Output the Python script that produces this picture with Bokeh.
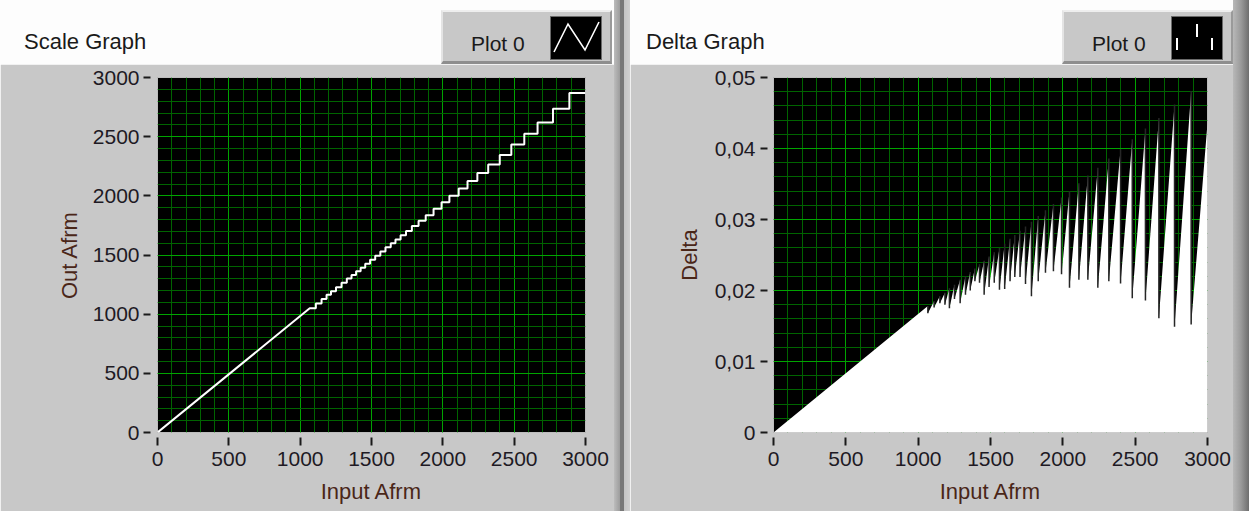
from bokeh.plotting import figure
from bokeh.layouts import row, column
from bokeh.models import Range1d, FixedTicker, CustomJSTickFormatter, Div
from bokeh.embed import file_html
from bokeh.resources import INLINE

# ---------------- data ----------------
step_x = [1067, 1110, 1150, 1185, 1216, 1251, 1290, 1327, 1360, 1392, 1424, 1456,
          1490, 1526, 1562, 1598, 1635, 1668, 1704, 1742, 1783, 1830, 1880, 1935,
          1991, 2046, 2111, 2173, 2242, 2318, 2399, 2480, 2571, 2664, 2772, 2887]
step_level = [1050, 1091, 1129, 1164, 1194, 1227, 1265, 1301, 1332, 1362, 1393, 1427,
              1459, 1494, 1530, 1565, 1600, 1632, 1666, 1702, 1746, 1790, 1836, 1890,
              1945, 2000, 2063, 2125, 2192, 2265, 2345, 2433, 2524, 2620, 2736, 2870]
delta_peak = [0.0178, 0.0185, 0.0192, 0.0197, 0.0203, 0.0208, 0.0215, 0.0220, 0.0226,
              0.0231, 0.0237, 0.0242, 0.0248, 0.0254, 0.0260, 0.0266, 0.0273, 0.0278,
              0.0284, 0.0290, 0.0297, 0.0305, 0.0313, 0.0322, 0.0331, 0.0340, 0.0351,
              0.0362, 0.0373, 0.0386, 0.0399, 0.0413, 0.0428, 0.0443, 0.0462, 0.0481]
delta_trough = [0.0168, 0.0176, 0.0182, 0.0180, 0.0175, 0.0188, 0.0182, 0.0194, 0.0200,
                0.0213, 0.0211, 0.0194, 0.0205, 0.0211, 0.0201, 0.0202, 0.0213, 0.0219,
                0.0219, 0.0209, 0.0192, 0.0213, 0.0225, 0.0227, 0.0223, 0.0204, 0.0215,
                0.0215, 0.0204, 0.0213, 0.0210, 0.0189, 0.0186, 0.0161, 0.0149, 0.0152]
x_start = 0
x_end = 3000
delta_end = 0.0436

x_ticks = [0, 500, 1000, 1500, 2000, 2500, 3000]
scale_y_ticks = [0, 500, 1000, 1500, 2000, 2500, 3000]
delta_y_ticks = [0, 0.01, 0.02, 0.03, 0.04, 0.05]

titles = ["Scale Graph", "Delta Graph"]
legend_label = "Plot 0"
x_label = "Input Afrm"
y_labels = ["Out Afrm", "Delta"]

# ---------------- styling ----------------
PANEL = "#c8c8c8"
FONT = "Liberation Sans"
MAJOR_GRID = "#00a400"
MINOR_GRID = "#006400"
STRIP_H = 64


def graph(width, b_left, b_right, y_max, y_ticks, y_minor, y_label, y_code,
          tick_in, tick_out, lab_stand, axlab_stand):
    p = figure(width=width, height=511 - STRIP_H, output_backend="svg", toolbar_location=None,
               x_range=Range1d(0, 3000), y_range=Range1d(0, y_max),
               min_border_left=b_left, min_border_right=b_right,
               min_border_top=13, min_border_bottom=79)
    p.background_fill_color = "black"
    p.border_fill_color = PANEL
    p.outline_line_color = "#bdbdbd"
    p.xaxis.ticker = FixedTicker(ticks=x_ticks, minor_ticks=list(range(0, 3001, 100)))
    p.yaxis.ticker = FixedTicker(ticks=y_ticks, minor_ticks=y_minor)
    p.xaxis.formatter = CustomJSTickFormatter(code="return tick.toFixed(0);")
    p.yaxis.formatter = CustomJSTickFormatter(code=y_code)
    for ax in (p.xaxis[0], p.yaxis[0]):
        ax.axis_line_color = None
        ax.minor_tick_in = 0
        ax.minor_tick_out = 0
        ax.major_tick_line_color = "#1a1a1a"
        ax.major_tick_line_width = 2
        ax.major_label_text_font = FONT
        ax.major_label_text_font_size = "21px"
        ax.major_label_text_color = "#1e1a24"
        ax.axis_label_text_font = FONT
        ax.axis_label_text_font_size = "22px"
        ax.axis_label_text_font_style = "normal"
        ax.axis_label_text_color = "#4a2618"
    p.xaxis.major_tick_in = -5
    p.xaxis.major_tick_out = 13
    p.xaxis.major_label_standoff = 6
    p.xaxis.axis_label_standoff = 10
    p.yaxis.major_tick_in = tick_in
    p.yaxis.major_tick_out = tick_out
    p.yaxis.major_label_standoff = lab_stand
    p.yaxis.axis_label_standoff = axlab_stand
    p.xaxis.axis_label = x_label
    p.yaxis.axis_label = y_label
    p.grid.grid_line_color = MAJOR_GRID
    p.grid.grid_line_width = 1
    p.grid.minor_grid_line_color = MINOR_GRID
    p.grid.minor_grid_line_width = 1
    return p


def header(width, title, title_x, box_l, kind):
    """White title strip with the LabVIEW style plot legend, as HTML."""
    il = 109
    if kind == "line":
        icon = ('<polyline points="4,36 18,8 35,34 49,6" fill="none" stroke="white" '
                'stroke-width="1.6"/>')
    else:
        icon = ('<line x1="6" y1="22" x2="6" y2="34" stroke="white" stroke-width="2"/>'
                '<line x1="26" y1="8" x2="26" y2="21" stroke="white" stroke-width="2"/>'
                '<line x1="41" y1="22" x2="41" y2="34" stroke="white" stroke-width="2"/>')
    html = (
        f'<div style="position:relative;width:{width}px;height:{STRIP_H}px;'
        f'background:#fdfdfd;overflow:hidden;font-family:\'{FONT}\';color:#1a1a1a;">'
        f'<div style="position:absolute;left:{title_x}px;top:31px;font-size:22px;'
        f'line-height:22px;white-space:nowrap;">{title}</div>'
        f'<div style="position:absolute;left:{box_l}px;top:10px;width:171px;height:{STRIP_H - 10}px;'
        f'box-sizing:border-box;background:{PANEL};border-top:2px solid #eeeeee;'
        f'border-left:2px solid #e4e4e4;border-right:2px solid #9a9a9a;'
        f'border-bottom:3px solid #8e8e8e;"></div>'
        f'<div style="position:absolute;left:{box_l + 30}px;top:33px;font-size:21px;'
        f'line-height:21px;white-space:nowrap;">{legend_label}</div>'
        f'<svg style="position:absolute;left:{box_l + il}px;top:16px;" width="52" height="44">'
        f'<rect x="0.5" y="0.5" width="51" height="43" fill="black" stroke="#6a6a6a"/>'
        f'{icon}</svg>'
        f'</div>'
    )
    return Div(text=html, width=width, height=STRIP_H, margin=0)


def band(width, gradient):
    return Div(text=f'<div style="width:{width}px;height:511px;background:{gradient};"></div>',
               width=width, height=511, margin=0)


# ---------------- left: scale graph ----------------
gl = graph(614, 157, 29, 3000, scale_y_ticks, list(range(0, 3001, 100)), y_labels[0],
           "return tick.toFixed(0);", -7, 14, 4, 8)
sx = [x_start]
sy = [0]
for i, (xv, lv) in enumerate(zip(step_x, step_level)):
    sx.append(xv)
    sy.append(lv)
    nx = step_x[i + 1] if i + 1 < len(step_x) else x_end
    sx.append(nx)
    sy.append(lv)
gl.line(sx, sy, line_color="white", line_width=2)

# ---------------- right: delta graph ----------------
gr = graph(603, 143, 26, 0.05, delta_y_ticks, [round(i * 0.002, 3) for i in range(26)],
           y_labels[1], "return tick == 0 ? '0' : tick.toFixed(2).replace('.', ',');",
           -6, 13, 5, 10)
dx = [x_start]
dy = [0]
for xv, pv, tv in zip(step_x, delta_peak, delta_trough):
    dx += [xv, xv]
    dy += [pv, tv]
dx.append(x_end)
dy.append(delta_end)
gr.varea(x=dx, y1=0, y2=dy, fill_color="white")
gr.segment(x0=step_x, y0=delta_trough, x1=step_x, y1=delta_peak,
           line_color="#262626", line_width=1.5)

left_col = column(header(614, titles[0], 24, 441, "line"), gl, spacing=0)
right_col = column(header(603, titles[1], 16, 432, "bars"), gr, spacing=0)
divider = band(16, "linear-gradient(to right, #bcbcbc 0px, #9c9c9c 6px, #787878 6px, "
                   "#787878 10px, #c4c4c4 10px, #d0d0d0 16px)")
right_edge = band(16, "linear-gradient(to right, #b8b8b8 0px, #9a9a9a 8px, #6e6e6e 16px)")

layout = row(left_col, divider, right_col, right_edge, spacing=0)

open("out.html", "w").write(file_html(layout, INLINE))
